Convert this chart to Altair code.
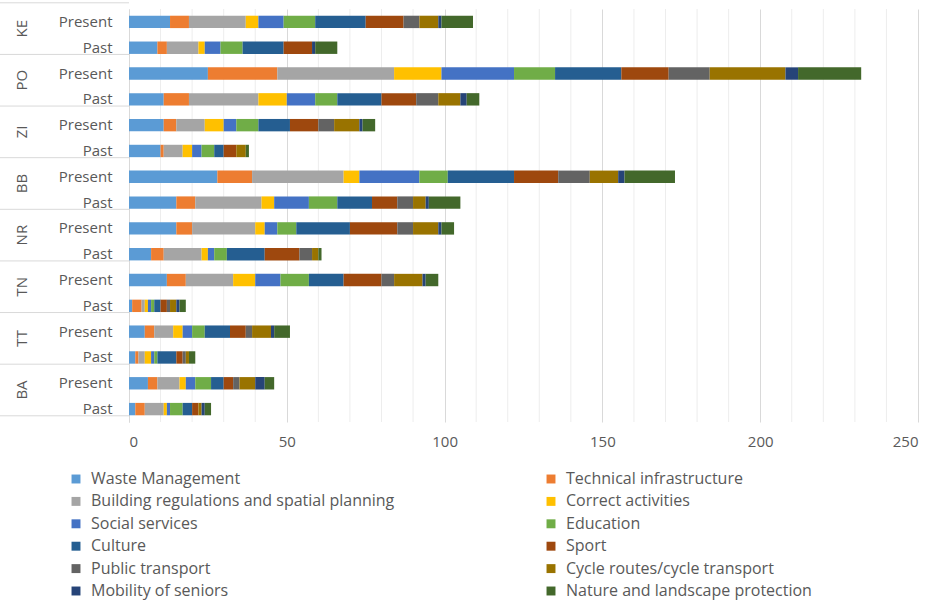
import altair as alt
import pandas as pd

regions = ["KE", "PO", "ZI", "BB", "NR", "TN", "TT", "BA"]
periods = ["Present", "Past"]

categories = [
    "Waste Management", "Technical infrastructure",
    "Building regulations and spatial planning", "Correct activities",
    "Social services", "Education",
    "Culture", "Sport",
    "Public transport", "Cycle routes/cycle transport",
    "Mobility of seniors", "Nature and landscape protection",
]
colors = ["#5B9BD5", "#ED7D31", "#A5A5A5", "#FFC000", "#4472C4", "#70AD47",
          "#255E91", "#9E480E", "#636363", "#997300", "#264478", "#43682B"]

# row order: KE Present, KE Past, PO Present, PO Past, ... BA Past
waste = [13, 9, 25, 11, 11, 10, 28, 15, 15, 7, 12, 1, 5, 2, 6, 2]
tech = [6, 3, 22, 8, 4, 1, 11, 6, 5, 4, 6, 3, 3, 1, 3, 3]
building = [18, 10, 37, 22, 9, 6, 29, 21, 20, 12, 15, 1, 6, 2, 7, 6]
correct = [4, 2, 15, 9, 6, 3, 5, 4, 3, 2, 7, 1, 3, 2, 2, 1]
social = [8, 5, 23, 9, 4, 3, 19, 11, 4, 2, 8, 1, 3, 1, 3, 1]
education = [10, 7, 13, 7, 7, 4, 9, 9, 6, 4, 9, 1, 4, 1, 5, 4]
culture = [16, 13, 21, 14, 10, 3, 21, 11, 17, 12, 11, 2, 8, 6, 4, 3]
sport = [12, 9, 15, 11, 9, 4, 14, 8, 15, 11, 12, 2, 5, 2, 3, 2]
public = [5, 0, 13, 7, 5, 0, 10, 5, 5, 4, 4, 1, 2, 1, 2, 0]
cycle = [6, 0, 24, 7, 8, 3, 9, 4, 8, 2, 9, 2, 6, 1, 5, 1]
mobility = [1, 1, 4, 2, 1, 0, 2, 1, 1, 0, 1, 1, 1, 0, 3, 1]
nature = [10, 7, 20, 4, 4, 1, 16, 10, 4, 1, 4, 2, 5, 2, 3, 2]

series = [waste, tech, building, correct, social, education,
          culture, sport, public, cycle, mobility, nature]

x_ticks = [0, 50, 100, 150, 200, 250]
minor_grid = [v for v in range(10, 251, 10) if v % 50 != 0]

rows = [f"{r}|{p}" for r in regions for p in periods]
records = []
for ci, (cat, vals) in enumerate(zip(categories, series)):
    for ri, row in enumerate(rows):
        records.append({"row": row, "category": cat, "order": ci, "value": vals[ri]})
df = pd.DataFrame(records)

region_df = pd.DataFrame({"row": [f"{r}|Present" for r in regions], "region": regions})
last_df = pd.DataFrame({"row": [rows[-1]]})
grid_df = pd.DataFrame({"v": minor_grid})

FONT = "Open Sans"
TXT = "#595959"
W, H = 789, 413
step = H / len(rows)

yscale = alt.Scale(domain=rows, paddingInner=0.52, paddingOuter=0.26)

minor = alt.Chart(grid_df).mark_rule(color="#EDEDED", strokeWidth=1).encode(
    x=alt.X("v:Q", scale=alt.Scale(domain=[0, 250], nice=False))
)

bars = alt.Chart(df).mark_bar().encode(
    x=alt.X("value:Q", stack="zero",
            scale=alt.Scale(domain=[0, 250], nice=False),
            axis=alt.Axis(title=None, values=x_ticks, grid=True, gridColor="#D9D9D9",
                          domain=False, ticks=False, labelPadding=12,
                          labelFontSize=15, labelColor=TXT, labelFont=FONT)),
    y=alt.Y("row:N", sort=rows, scale=yscale,
            axis=alt.Axis(title=None, labelExpr="split(datum.label, '|')[1]",
                          ticks=False, domainColor="#D9D9D9", labelPadding=17,
                          labelFontSize=15, labelColor=TXT, labelFont=FONT)),
    color=alt.Color("category:N", scale=alt.Scale(domain=categories, range=colors),
                    legend=alt.Legend(title=None, orient="none", legendX=-61, legendY=462,
                                      columns=2, direction="horizontal",
                                      columnPadding=148, symbolType="square",
                                      symbolSize=80, symbolStrokeWidth=0, labelOffset=7,
                                      labelFontSize=16, labelFont=FONT, labelColor=TXT,
                                      rowPadding=6.4, labelLimit=500)),
    order=alt.Order("order:Q", sort="ascending"),
)

region_text = alt.Chart(region_df).mark_text(
    angle=270, fontSize=15, color=TXT, font=FONT, align="center", baseline="middle"
).encode(
    x=alt.value(-107),
    y=alt.Y("row:N", sort=rows, scale=yscale),
    yOffset=alt.value(step / 2),
    text="region:N",
)

sep_top = alt.Chart(region_df).mark_rule(color="#D9D9D9", strokeWidth=1).encode(
    x=alt.value(-129), x2=alt.value(0),
    y=alt.Y("row:N", sort=rows, scale=yscale),
    yOffset=alt.value(-step / 2),
)
sep_bottom = alt.Chart(last_df).mark_rule(color="#D9D9D9", strokeWidth=1).encode(
    x=alt.value(-129), x2=alt.value(0),
    y=alt.Y("row:N", sort=rows, scale=yscale),
    yOffset=alt.value(step / 2),
)

chart = alt.layer(minor, bars, region_text, sep_top, sep_bottom).properties(
    width=W, height=H,
    autosize=alt.AutoSizeParams(type="none"),
    padding={"left": 129, "top": 9, "right": 18, "bottom": 178},
    background="white",
).configure_view(stroke=None)

chart.save("out.html", embed_options={"renderer": "svg", "actions": False})
